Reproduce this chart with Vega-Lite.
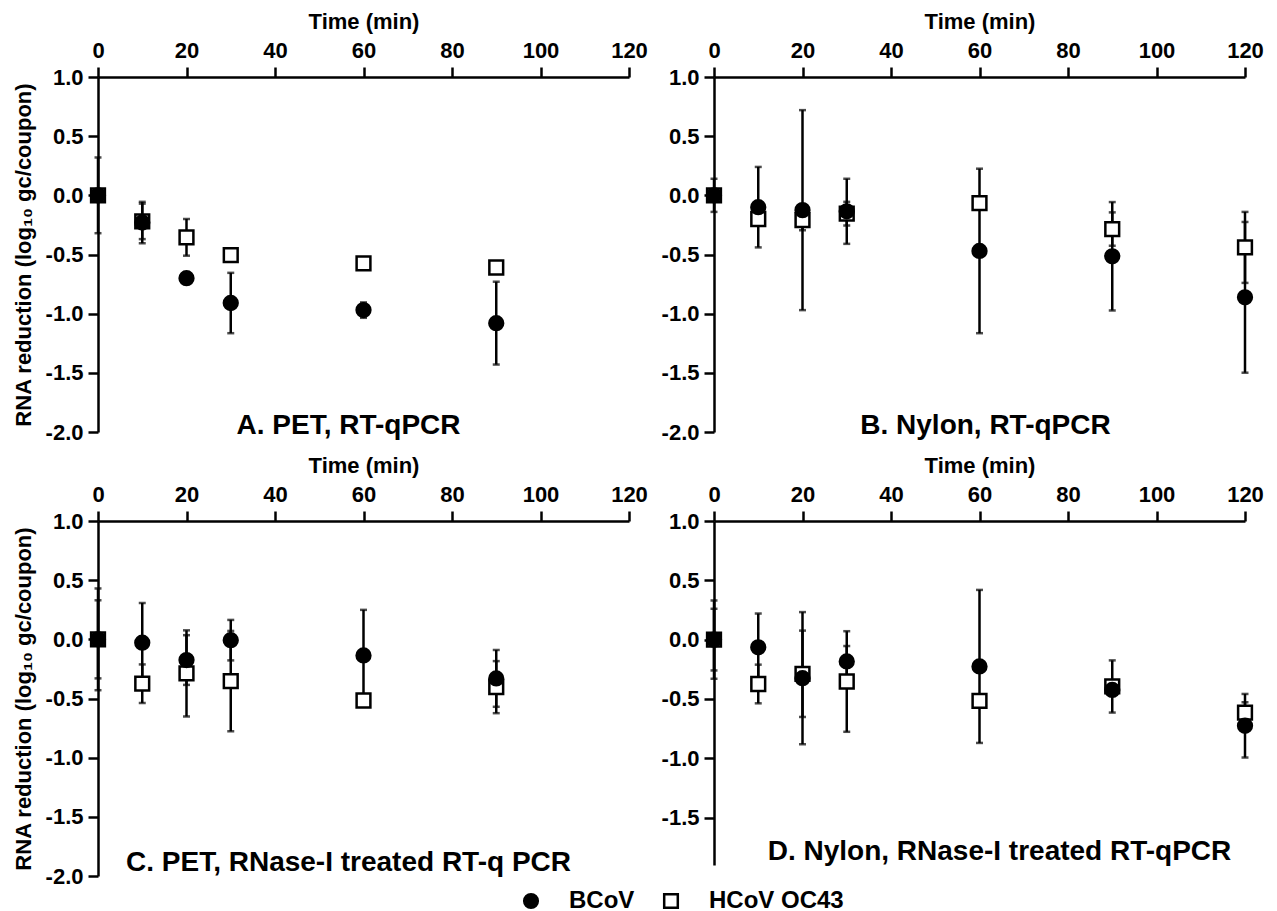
{
  "$schema": "https://vega.github.io/schema/vega-lite/v6.json",
  "padding": {"left": 12, "top": 10, "right": 5, "bottom": 2},
  "background": "white",
  "data": {"values": [
    {"panel":"A","time":0,"virus":"HCoV OC43","mean":0,"err":0.03},
    {"panel":"A","time":10,"virus":"HCoV OC43","mean":-0.22,"err":0.15},
    {"panel":"A","time":20,"virus":"HCoV OC43","mean":-0.355,"err":0.155},
    {"panel":"A","time":30,"virus":"HCoV OC43","mean":-0.505,"err":0.03},
    {"panel":"A","time":60,"virus":"HCoV OC43","mean":-0.575,"err":0.03},
    {"panel":"A","time":90,"virus":"HCoV OC43","mean":-0.61,"err":0.03},
    {"panel":"A","time":0,"virus":"BCoV","mean":0,"err":0.32},
    {"panel":"A","time":10,"virus":"BCoV","mean":-0.23,"err":0.175},
    {"panel":"A","time":20,"virus":"BCoV","mean":-0.7,"err":0.03},
    {"panel":"A","time":30,"virus":"BCoV","mean":-0.91,"err":0.255},
    {"panel":"A","time":60,"virus":"BCoV","mean":-0.97,"err":0.065},
    {"panel":"A","time":90,"virus":"BCoV","mean":-1.08,"err":0.35},

    {"panel":"B","time":0,"virus":"HCoV OC43","mean":0,"err":0.05},
    {"panel":"B","time":10,"virus":"HCoV OC43","mean":-0.2,"err":0.05},
    {"panel":"B","time":20,"virus":"HCoV OC43","mean":-0.21,"err":0.085},
    {"panel":"B","time":30,"virus":"HCoV OC43","mean":-0.155,"err":0.1},
    {"panel":"B","time":60,"virus":"HCoV OC43","mean":-0.065,"err":0.05},
    {"panel":"B","time":90,"virus":"HCoV OC43","mean":-0.285,"err":0.141},
    {"panel":"B","time":120,"virus":"HCoV OC43","mean":-0.44,"err":0.3},
    {"panel":"B","time":0,"virus":"BCoV","mean":0,"err":0.14},
    {"panel":"B","time":10,"virus":"BCoV","mean":-0.1,"err":0.34},
    {"panel":"B","time":20,"virus":"BCoV","mean":-0.125,"err":0.845},
    {"panel":"B","time":30,"virus":"BCoV","mean":-0.135,"err":0.275},
    {"panel":"B","time":60,"virus":"BCoV","mean":-0.47,"err":0.695},
    {"panel":"B","time":90,"virus":"BCoV","mean":-0.515,"err":0.458},
    {"panel":"B","time":120,"virus":"BCoV","mean":-0.862,"err":0.637},

    {"panel":"C","time":0,"virus":"HCoV OC43","mean":0,"err":0.33},
    {"panel":"C","time":10,"virus":"HCoV OC43","mean":-0.375,"err":0.163},
    {"panel":"C","time":20,"virus":"HCoV OC43","mean":-0.288,"err":0.364},
    {"panel":"C","time":30,"virus":"HCoV OC43","mean":-0.353,"err":0.424},
    {"panel":"C","time":60,"virus":"HCoV OC43","mean":-0.517,"err":0.03},
    {"panel":"C","time":90,"virus":"HCoV OC43","mean":-0.404,"err":0.22},
    {"panel":"C","time":0,"virus":"BCoV","mean":0,"err":0.43},
    {"panel":"C","time":10,"virus":"BCoV","mean":-0.028,"err":0.335},
    {"panel":"C","time":20,"virus":"BCoV","mean":-0.175,"err":0.21},
    {"panel":"C","time":30,"virus":"BCoV","mean":-0.007,"err":0.171},
    {"panel":"C","time":60,"virus":"BCoV","mean":-0.136,"err":0.385},
    {"panel":"C","time":90,"virus":"BCoV","mean":-0.33,"err":0.24},

    {"panel":"D","time":0,"virus":"HCoV OC43","mean":0,"err":0.26},
    {"panel":"D","time":10,"virus":"HCoV OC43","mean":-0.374,"err":0.163},
    {"panel":"D","time":20,"virus":"HCoV OC43","mean":-0.288,"err":0.364},
    {"panel":"D","time":30,"virus":"HCoV OC43","mean":-0.353,"err":0.424},
    {"panel":"D","time":60,"virus":"HCoV OC43","mean":-0.517,"err":0.03},
    {"panel":"D","time":90,"virus":"HCoV OC43","mean":-0.395,"err":0.22},
    {"panel":"D","time":120,"virus":"HCoV OC43","mean":-0.616,"err":0.088},
    {"panel":"D","time":0,"virus":"BCoV","mean":0,"err":0.33},
    {"panel":"D","time":10,"virus":"BCoV","mean":-0.065,"err":0.285},
    {"panel":"D","time":20,"virus":"BCoV","mean":-0.325,"err":0.557},
    {"panel":"D","time":30,"virus":"BCoV","mean":-0.184,"err":0.13},
    {"panel":"D","time":60,"virus":"BCoV","mean":-0.226,"err":0.645},
    {"panel":"D","time":90,"virus":"BCoV","mean":-0.424,"err":0.05},
    {"panel":"D","time":120,"virus":"BCoV","mean":-0.726,"err":0.268}
  ]},
  "columns": 2,
  "bounds": "flush",
  "spacing": {"row": 89, "column": 85},
  "resolve": {"scale": {"x": "independent", "y": "independent"}},
  "config": {
    "font": "Liberation Sans",
    "view": {"stroke": null},
    "axis": {
      "grid": false,
      "domainColor": "#000", "domainWidth": 2.5,
      "tickColor": "#000", "tickWidth": 2.5, "tickSize": 10,
      "labelFont": "Liberation Sans", "labelFontWeight": "bold", "labelFontSize": 22, "labelColor": "#000", "labelPadding": 5, "labelFlush": false, "labelOverlap": false,
      "titleFont": "Liberation Sans", "titleFontWeight": "bold", "titleFontSize": 22, "titleColor": "#000"
    },
    "title": {"font": "Liberation Sans", "fontWeight": "bold", "fontSize": 28, "color": "#000"},
    "legend": {
      "orient": "none", "direction": "horizontal", "legendX": 421, "legendY": 812,
      "labelFont": "Liberation Sans", "labelFontWeight": "bold", "labelFontSize": 24, "labelColor": "#000",
      "symbolSize": 185, "symbolStrokeWidth": 2.5, "labelOffset": 26, "columnPadding": 24
    }
  },
  "concat": [
    {
      "width": 531, "height": 355,
      "title": {"text": "A. PET, RT-qPCR", "orient": "bottom", "frame": "group", "anchor": "middle", "baseline": "alphabetic", "offset": -9, "dx": -15},
      "transform": [{"filter": "datum.panel === 'A'"}],
      "layer": [
        {"mark": {"type": "errorbar", "ticks": {"size": 7, "thickness": 2.5, "color": "#000"}, "thickness": 2.5, "color": "#000"},
         "encoding": {
           "x": {"field": "time", "type": "quantitative", "scale": {"domain": [0, 120], "nice": false}, "axis": {"orient": "top", "values": [0,20,40,60,80,100,120], "title": "Time (min)", "titlePadding": 6}},
           "y": {"field": "mean", "type": "quantitative", "scale": {"domain": [-2, 1], "nice": false}, "axis": {"values": [1,0.5,0,-0.5,-1,-1.5,-2], "labelExpr": "replace(format(datum.value, '.1f'), '\u2212', '-')", "title": "RNA reduction (log\u2081\u2080 gc/coupon)", "titleFontSize": 22, "titlePadding": 10}},
           "yError": {"field": "err"}
         }},
        {"mark": {"type": "point", "filled": false, "strokeWidth": 2.5, "opacity": 1, "size": 190},
         "encoding": {
           "x": {"field": "time", "type": "quantitative"},
           "y": {"field": "mean", "type": "quantitative"},
           "shape": {"field": "virus", "type": "nominal", "scale": {"domain": ["BCoV", "HCoV OC43"], "range": ["circle", "square"]}, "legend": {"title": null}},
           "fill": {"field": "virus", "type": "nominal", "scale": {"domain": ["BCoV", "HCoV OC43"], "range": ["#000", "#fff"]}, "legend": {"title": null}},
           "stroke": {"field": "virus", "type": "nominal", "scale": {"domain": ["BCoV", "HCoV OC43"], "range": ["#000", "#000"]}, "legend": {"title": null}}
         }}
      ]
    },
    {
      "width": 531, "height": 355,
      "title": {"text": "B. Nylon, RT-qPCR", "orient": "bottom", "frame": "group", "anchor": "middle", "baseline": "alphabetic", "offset": -9, "dx": 6},
      "transform": [{"filter": "datum.panel === 'B'"}],
      "layer": [
        {"mark": {"type": "errorbar", "ticks": {"size": 7, "thickness": 2.5, "color": "#000"}, "thickness": 2.5, "color": "#000"},
         "encoding": {
           "x": {"field": "time", "type": "quantitative", "scale": {"domain": [0, 120], "nice": false}, "axis": {"orient": "top", "values": [0,20,40,60,80,100,120], "title": "Time (min)", "titlePadding": 6}},
           "y": {"field": "mean", "type": "quantitative", "scale": {"domain": [-2, 1], "nice": false}, "axis": {"values": [1,0.5,0,-0.5,-1,-1.5,-2], "labelExpr": "replace(format(datum.value, '.1f'), '\u2212', '-')", "title": null}},
           "yError": {"field": "err"}
         }},
        {"mark": {"type": "point", "filled": false, "strokeWidth": 2.5, "opacity": 1, "size": 190},
         "encoding": {
           "x": {"field": "time", "type": "quantitative"},
           "y": {"field": "mean", "type": "quantitative"},
           "shape": {"field": "virus", "type": "nominal", "scale": {"domain": ["BCoV", "HCoV OC43"], "range": ["circle", "square"]}, "legend": {"title": null}},
           "fill": {"field": "virus", "type": "nominal", "scale": {"domain": ["BCoV", "HCoV OC43"], "range": ["#000", "#fff"]}, "legend": {"title": null}},
           "stroke": {"field": "virus", "type": "nominal", "scale": {"domain": ["BCoV", "HCoV OC43"], "range": ["#000", "#000"]}, "legend": {"title": null}}
         }}
      ]
    },
    {
      "width": 531, "height": 355,
      "title": {"text": "C. PET, RNase-I treated RT-q PCR", "orient": "bottom", "frame": "group", "anchor": "middle", "baseline": "alphabetic", "offset": -16, "dx": -15},
      "transform": [{"filter": "datum.panel === 'C'"}],
      "layer": [
        {"mark": {"type": "errorbar", "ticks": {"size": 7, "thickness": 2.5, "color": "#000"}, "thickness": 2.5, "color": "#000"},
         "encoding": {
           "x": {"field": "time", "type": "quantitative", "scale": {"domain": [0, 120], "nice": false}, "axis": {"orient": "top", "values": [0,20,40,60,80,100,120], "title": "Time (min)", "titlePadding": 6}},
           "y": {"field": "mean", "type": "quantitative", "scale": {"domain": [-2, 1], "nice": false}, "axis": {"values": [1,0.5,0,-0.5,-1,-1.5,-2], "labelExpr": "replace(format(datum.value, '.1f'), '\u2212', '-')", "title": "RNA reduction (log\u2081\u2080 gc/coupon)", "titleFontSize": 22, "titlePadding": 10}},
           "yError": {"field": "err"}
         }},
        {"mark": {"type": "point", "filled": false, "strokeWidth": 2.5, "opacity": 1, "size": 190},
         "encoding": {
           "x": {"field": "time", "type": "quantitative"},
           "y": {"field": "mean", "type": "quantitative"},
           "shape": {"field": "virus", "type": "nominal", "scale": {"domain": ["BCoV", "HCoV OC43"], "range": ["circle", "square"]}, "legend": {"title": null}},
           "fill": {"field": "virus", "type": "nominal", "scale": {"domain": ["BCoV", "HCoV OC43"], "range": ["#000", "#fff"]}, "legend": {"title": null}},
           "stroke": {"field": "virus", "type": "nominal", "scale": {"domain": ["BCoV", "HCoV OC43"], "range": ["#000", "#000"]}, "legend": {"title": null}}
         }}
      ]
    },
    {
      "width": 531, "height": 344,
      "title": {"text": "D. Nylon, RNase-I treated RT-qPCR", "orient": "bottom", "frame": "group", "anchor": "middle", "baseline": "alphabetic", "offset": -5, "dx": 20},
      "transform": [{"filter": "datum.panel === 'D'"}],
      "layer": [
        {"mark": {"type": "errorbar", "ticks": {"size": 7, "thickness": 2.5, "color": "#000"}, "thickness": 2.5, "color": "#000"},
         "encoding": {
           "x": {"field": "time", "type": "quantitative", "scale": {"domain": [0, 120], "nice": false}, "axis": {"orient": "top", "values": [0,20,40,60,80,100,120], "title": "Time (min)", "titlePadding": 6}},
           "y": {"field": "mean", "type": "quantitative", "scale": {"domain": [-1.9, 1], "nice": false}, "axis": {"values": [1,0.5,0,-0.5,-1,-1.5], "labelExpr": "replace(format(datum.value, '.1f'), '\u2212', '-')", "title": null}},
           "yError": {"field": "err"}
         }},
        {"mark": {"type": "point", "filled": false, "strokeWidth": 2.5, "opacity": 1, "size": 190},
         "encoding": {
           "x": {"field": "time", "type": "quantitative"},
           "y": {"field": "mean", "type": "quantitative"},
           "shape": {"field": "virus", "type": "nominal", "scale": {"domain": ["BCoV", "HCoV OC43"], "range": ["circle", "square"]}, "legend": {"title": null}},
           "fill": {"field": "virus", "type": "nominal", "scale": {"domain": ["BCoV", "HCoV OC43"], "range": ["#000", "#fff"]}, "legend": {"title": null}},
           "stroke": {"field": "virus", "type": "nominal", "scale": {"domain": ["BCoV", "HCoV OC43"], "range": ["#000", "#000"]}, "legend": {"title": null}}
         }}
      ]
    }
  ]
}
